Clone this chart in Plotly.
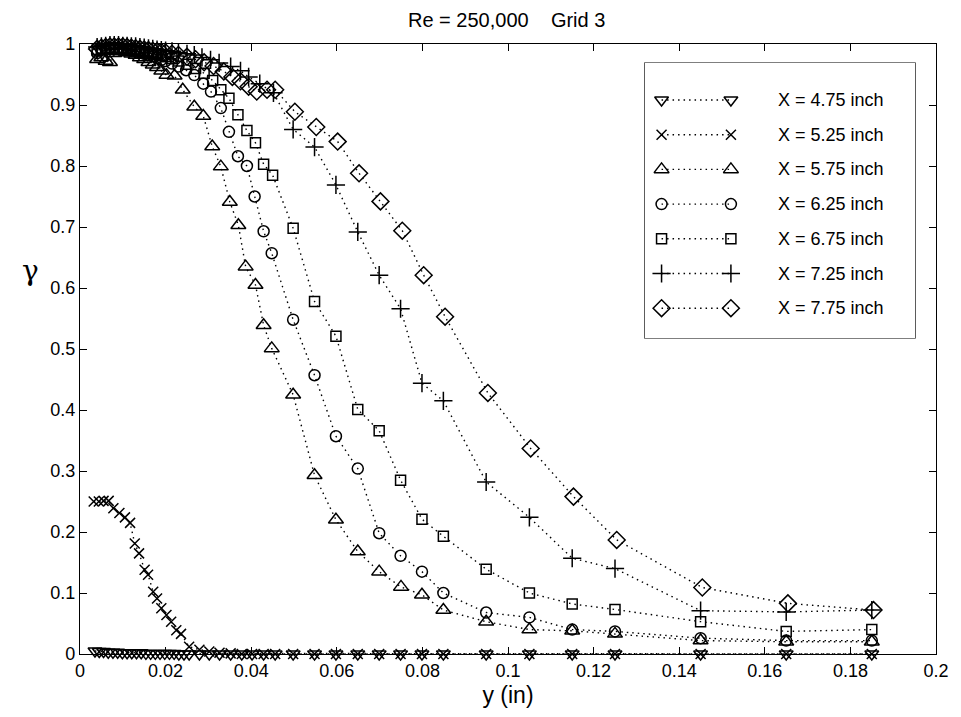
import plotly.graph_objects as go

# ---------------- data ----------------
labels = ["X = 4.75 inch", "X = 5.25 inch", "X = 5.75 inch", "X = 6.25 inch",
          "X = 6.75 inch", "X = 7.25 inch", "X = 7.75 inch"]

y_475 = [0.0035, 0.0045, 0.0055, 0.0066, 0.0077, 0.0088, 0.0099, 0.0110, 0.0121, 0.0132,
         0.0143, 0.0154, 0.0165, 0.0176, 0.0187, 0.0198, 0.0209, 0.0220, 0.0231, 0.0243,
         0.0255, 0.0279, 0.0302, 0.0326, 0.0352, 0.0378, 0.0402, 0.0429, 0.0456, 0.0498,
         0.0548, 0.0598, 0.0649, 0.0699, 0.0749, 0.0799, 0.0849, 0.0949, 0.105, 0.115,
         0.125, 0.145, 0.165, 0.185]
g_475 = [0.005, 0.004, 0.004, 0.003, 0.003, 0.003, 0.002, 0.002, 0.002, 0.002,
         0.002, 0.001, 0.001, 0.001, 0.001, 0.001, 0.001, 0.001, 0.000, 0.000,
         0.000, 0.000, 0.000, 0.000, 0.000, 0.000, 0.000, 0.000, 0.000, 0.000,
         0.000, 0.000, 0.000, 0.000, 0.000, 0.000, 0.000, 0.000, 0.000, 0.000,
         0.000, 0.000, 0.000, 0.000]

y_525 = [0.0032, 0.0044, 0.0055, 0.0067, 0.0078, 0.0092, 0.0105, 0.0117, 0.0128, 0.0138,
         0.0151, 0.0159, 0.0171, 0.0180, 0.0190, 0.0202, 0.0213, 0.0225, 0.0236,
         0.0255, 0.0279, 0.0302, 0.0326, 0.0352, 0.0378, 0.0402, 0.0429, 0.0456, 0.0498,
         0.0548, 0.0598, 0.0649, 0.0699, 0.0749, 0.0799, 0.0849, 0.0949, 0.105, 0.115,
         0.125, 0.145, 0.165, 0.185]
g_525 = [0.250, 0.250, 0.251, 0.251, 0.239, 0.231, 0.224, 0.215, 0.181, 0.165,
         0.138, 0.130, 0.102, 0.091, 0.075, 0.064, 0.053, 0.039, 0.033,
         0.012, 0.007, 0.004, 0.002, 0.001, 0.000, 0.000, 0.000, 0.000, 0.000,
         0.000, 0.000, 0.000, 0.000, 0.000, 0.000, 0.000, 0.000, 0.000, 0.000,
         0.000, 0.000, 0.000, 0.000]

y_575 = [0.0040, 0.0050, 0.0060, 0.0070, 0.0080, 0.0090, 0.0100, 0.0110, 0.0120, 0.0130,
         0.0140, 0.0150, 0.0160, 0.0170, 0.0180, 0.0190, 0.0202, 0.0221, 0.0240, 0.0267,
         0.0288, 0.0309, 0.0329, 0.0350, 0.0370, 0.0387, 0.0410, 0.0429, 0.0448, 0.0498,
         0.0548, 0.0598, 0.0649, 0.0699, 0.0750, 0.0799, 0.0849, 0.0949, 0.105, 0.115,
         0.125, 0.145, 0.165, 0.185]
g_575 = [0.975, 0.978, 0.972, 0.970, 0.985, 0.988, 0.988, 0.986, 0.984, 0.982,
         0.978, 0.975, 0.970, 0.966, 0.962, 0.956, 0.949, 0.948, 0.925, 0.897,
         0.882, 0.832, 0.799, 0.741, 0.703, 0.635, 0.605, 0.539, 0.501, 0.425,
         0.293, 0.220, 0.168, 0.135, 0.110, 0.097, 0.072, 0.053, 0.040, 0.038,
         0.033, 0.022, 0.020, 0.020]

y_625 = [0.0040, 0.0050, 0.0060, 0.0070, 0.0080, 0.0090, 0.0100, 0.0110, 0.0120, 0.0130,
         0.0140, 0.0150, 0.0160, 0.0170, 0.0180, 0.0190, 0.0200, 0.0215, 0.0230, 0.0248,
         0.0267, 0.0288, 0.0306, 0.0329, 0.0348, 0.0369, 0.0390, 0.0408, 0.0429, 0.0448,
         0.0498, 0.0548, 0.0598, 0.0649, 0.0699, 0.0749, 0.0799, 0.0849, 0.0949, 0.105,
         0.115, 0.125, 0.145, 0.165, 0.185]
g_625 = [0.985, 0.990, 0.992, 0.993, 0.993, 0.992, 0.991, 0.990, 0.989, 0.988,
         0.986, 0.984, 0.982, 0.980, 0.977, 0.974, 0.972, 0.968, 0.963, 0.957,
         0.949, 0.935, 0.922, 0.895, 0.856, 0.816, 0.800, 0.750, 0.693, 0.657,
         0.548, 0.457, 0.357, 0.304, 0.198, 0.161, 0.135, 0.100, 0.068, 0.060,
         0.040, 0.037, 0.026, 0.022, 0.022]

y_675 = [0.0040, 0.0050, 0.0060, 0.0070, 0.0080, 0.0090, 0.0100, 0.0110, 0.0120, 0.0130,
         0.0140, 0.0150, 0.0160, 0.0170, 0.0180, 0.0190, 0.0200, 0.0215, 0.0230, 0.0250,
         0.0270, 0.0290, 0.0310, 0.0329, 0.0348, 0.0369, 0.0390, 0.0410, 0.0429, 0.0450,
         0.0498, 0.0548, 0.0598, 0.0649, 0.0699, 0.0749, 0.0799, 0.0849, 0.0949, 0.105,
         0.115, 0.125, 0.145, 0.165, 0.185]
g_675 = [0.990, 0.992, 0.993, 0.994, 0.994, 0.994, 0.993, 0.992, 0.991, 0.990,
         0.989, 0.988, 0.987, 0.985, 0.983, 0.981, 0.979, 0.976, 0.972, 0.967,
         0.960, 0.952, 0.940, 0.925, 0.911, 0.884, 0.858, 0.838, 0.803, 0.785,
         0.698, 0.578, 0.521, 0.401, 0.366, 0.285, 0.221, 0.193, 0.139, 0.100,
         0.082, 0.073, 0.053, 0.037, 0.040]

y_725 = [0.0040, 0.0050, 0.0060, 0.0070, 0.0080, 0.0090, 0.0100, 0.0110, 0.0120, 0.0130,
         0.0140, 0.0150, 0.0160, 0.0170, 0.0180, 0.0190, 0.0200, 0.0215, 0.0230, 0.0250,
         0.0267, 0.0285, 0.0305, 0.0325, 0.0352, 0.0375, 0.0394, 0.0420, 0.0452, 0.0498,
         0.0548, 0.0598, 0.0649, 0.0699, 0.0749, 0.0799, 0.0849, 0.0949, 0.105, 0.115,
         0.125, 0.145, 0.165, 0.185]
g_725 = [0.995, 0.996, 0.997, 0.998, 0.998, 0.998, 0.997, 0.997, 0.996, 0.996,
         0.995, 0.994, 0.993, 0.992, 0.991, 0.990, 0.989, 0.988, 0.986, 0.984,
         0.982, 0.978, 0.974, 0.969, 0.963, 0.956, 0.946, 0.935, 0.920, 0.860,
         0.831, 0.769, 0.692, 0.621, 0.566, 0.444, 0.415, 0.282, 0.224, 0.157,
         0.140, 0.071, 0.069, 0.072]

y_775 = [0.0040, 0.0050, 0.0060, 0.0070, 0.0080, 0.0090, 0.0100, 0.0110, 0.0120, 0.0130,
         0.0140, 0.0150, 0.0160, 0.0170, 0.0180, 0.0190, 0.0200, 0.0215, 0.0230, 0.0250,
         0.0270, 0.0290, 0.0312, 0.0336, 0.0356, 0.0375, 0.0394, 0.0413, 0.0437, 0.0456,
         0.0502, 0.0552, 0.0602, 0.0652, 0.0702, 0.0753, 0.0803, 0.0853, 0.0953, 0.1053,
         0.1153, 0.1254, 0.1454, 0.1654, 0.1854]
g_775 = [0.992, 0.994, 0.995, 0.996, 0.996, 0.996, 0.996, 0.995, 0.994, 0.993,
         0.992, 0.991, 0.990, 0.989, 0.988, 0.987, 0.986, 0.984, 0.982, 0.979,
         0.975, 0.970, 0.964, 0.955, 0.946, 0.939, 0.930, 0.922, 0.925, 0.925,
         0.889, 0.864, 0.840, 0.788, 0.742, 0.694, 0.621, 0.553, 0.428, 0.337,
         0.258, 0.187, 0.109, 0.083, 0.072]

x_ticks = [0, 0.02, 0.04, 0.06, 0.08, 0.1, 0.12, 0.14, 0.16, 0.18, 0.2]
y_ticks = [0, 0.1, 0.2, 0.3, 0.4, 0.5, 0.6, 0.7, 0.8, 0.9, 1]

series = [(y_475, g_475), (y_525, g_525), (y_575, g_575), (y_625, g_625),
          (y_675, g_675), (y_725, g_725), (y_775, g_775)]
symbols = ["triangle-down-open", "x-thin", "triangle-up-open", "circle-open",
           "square-open", "cross-thin", "diamond-open"]
sizes = [12, 10, 13, 11, 10, 13, 13]

FONT = "Liberation Sans, Arial, Helvetica, sans-serif"
DOT = "1.5px,4px"

# The page body has an 8px margin: work in page pixels, convert to figure pixels.
OFF = 8
W, H = 961 - OFF, 717 - OFF
PL, PR, PT, PB = 80 - OFF, 944 - OFF, 44 - OFF, 654 - OFF     # plot area
BL, BR, BT, BB = 650 - OFF, 923 - OFF, 63 - OFF, 338 - OFF    # legend box
pw, ph = PR - PL, PB - PT

fig = go.Figure()
for (xs, gs), sym, sz, lab in zip(series, symbols, sizes, labels):
    assert len(xs) == len(gs), lab
    fig.add_trace(go.Scatter(
        x=xs, y=gs, mode="lines+markers", name=lab, cliponaxis=False,
        line=dict(color="black", width=1.4, dash=DOT),
        marker=dict(symbol=sym, size=sz, color="black",
                    line=dict(color="black", width=1.5)),
        showlegend=False))

# ---------------- MATLAB-style legend in its own small axes ----------------
bx0, bx1 = (BL - PL) / pw, (BR - PL) / pw
by0, by1 = (PB - BB) / ph, (PB - BT) / ph
bw, bh = BR - BL, BB - BT
row_top, row_step = 37, 34.7
for i, (sym, sz, lab) in enumerate(zip(symbols, sizes, labels)):
    ry = bh - (row_top + i * row_step)
    fig.add_trace(go.Scatter(
        x=[17, 87], y=[ry, ry], xaxis="x2", yaxis="y2", mode="lines+markers",
        cliponaxis=False, showlegend=False, hoverinfo="skip",
        line=dict(color="black", width=1.4, dash=DOT),
        marker=dict(symbol=sym, size=sz, color="black",
                    line=dict(color="black", width=1.5))))
    fig.add_annotation(x=132, y=ry, xref="x2", yref="y2", text=lab,
                       showarrow=False, xanchor="left", yanchor="middle",
                       font=dict(family=FONT, size=18, color="black"))

fig.add_shape(type="rect", xref="paper", yref="paper", x0=bx0, x1=bx1, y0=by0, y1=by1,
              line=dict(color="black", width=1.2), fillcolor="white", layer="below")

axis_common = dict(showline=True, linecolor="black", linewidth=1.3, mirror="ticks",
                   ticks="inside", ticklen=7, tickwidth=1.3, tickcolor="black",
                   showgrid=False, zeroline=False,
                   tickfont=dict(family=FONT, size=18, color="black"))

fig.update_layout(
    width=W, height=H,
    margin=dict(l=PL, r=W - PR, t=PT, b=H - PB),
    paper_bgcolor="white", plot_bgcolor="white",
    showlegend=False,
    xaxis=dict(range=[0, 0.2], tickvals=x_ticks, ticktext=[f"{v:g}" for v in x_ticks],
               title=dict(text="y (in)", standoff=7,
                          font=dict(family=FONT, size=23, color="black")),
               **axis_common),
    yaxis=dict(range=[0, 1], tickvals=y_ticks, ticktext=[f"{v:g}" for v in y_ticks],
               **axis_common),
    xaxis2=dict(domain=[bx0, bx1], range=[0, bw], visible=False, anchor="y2",
                fixedrange=True),
    yaxis2=dict(domain=[by0, by1], range=[0, bh], visible=False, anchor="x2",
                fixedrange=True),
)

# Title as a paper annotation (kept inside the page, centred over the axes)
fig.add_annotation(text="Re = 250,000\u00a0\u00a0\u00a0\u00a0Grid 3", xref="paper",
                   yref="paper", x=(510 - OFF - PL) / pw, y=1 + (PT - 12) / ph,
                   showarrow=False, xanchor="center", yanchor="middle",
                   font=dict(family=FONT, size=20, color="black"))

fig.add_annotation(text="γ", xref="paper", yref="paper", x=(30 - OFF - PL) / pw,
                   y=(PB - (270 - OFF)) / ph, showarrow=False, xanchor="center",
                   yanchor="middle",
                   font=dict(family="DejaVu Serif, serif", size=28, color="black"))

fig.write_html("out.html")
